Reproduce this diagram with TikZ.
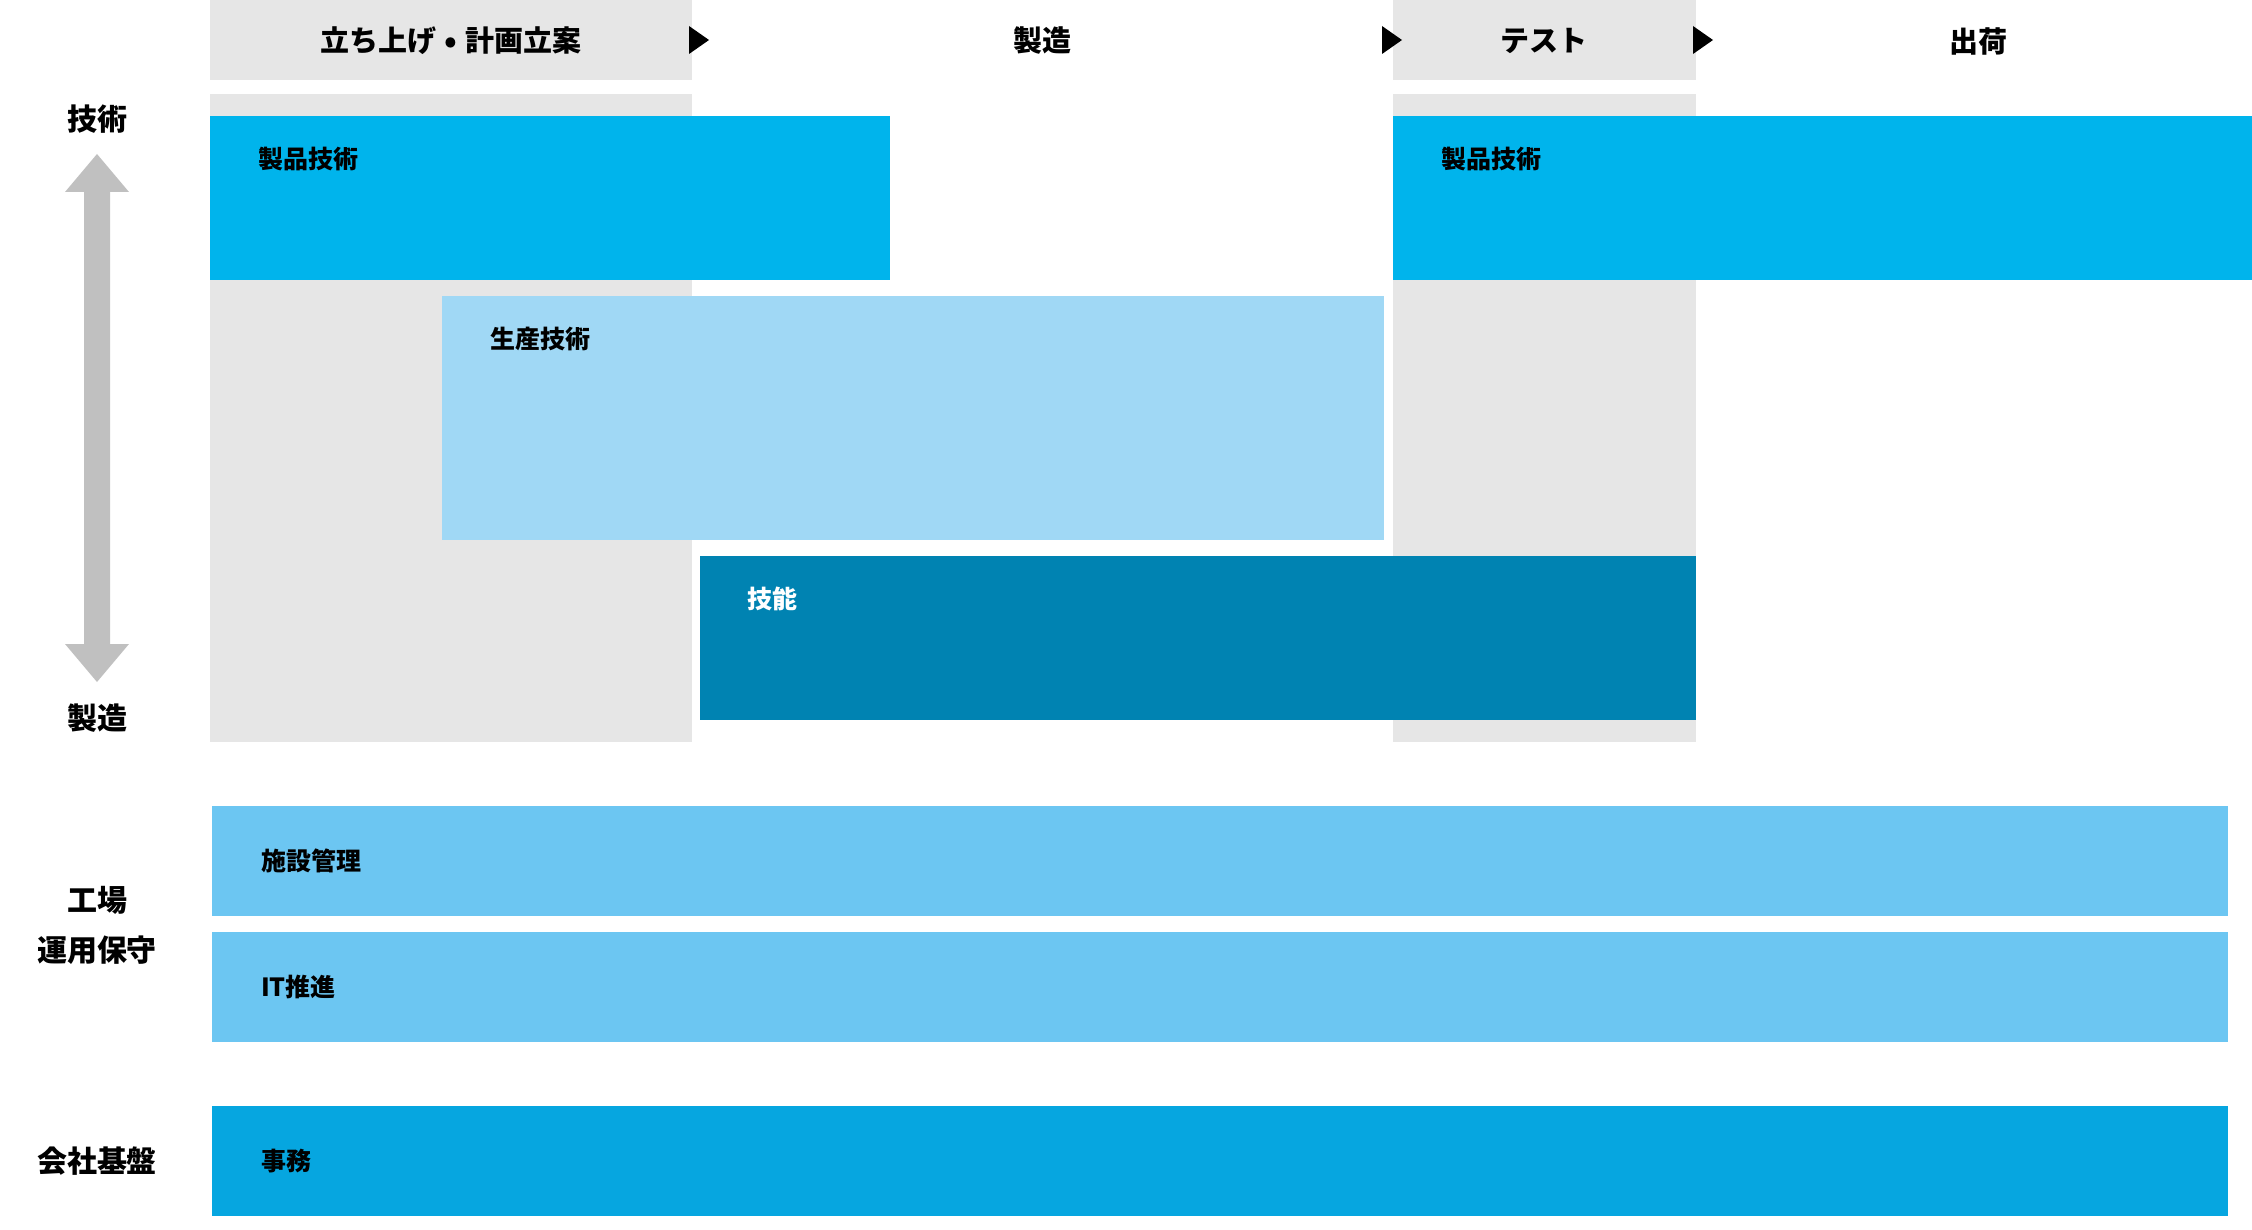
\documentclass[tikz,border=0pt]{standalone}
\usepackage{fontspec}
\setmainfont{Noto Sans CJK JP}
\definecolor{cgray}{HTML}{E6E6E6}
\definecolor{carrow}{HTML}{C0C0C0}
\definecolor{cprod}{HTML}{00B4EC}
\definecolor{cseisan}{HTML}{A0D8F5}
\definecolor{cgino}{HTML}{0083B2}
\definecolor{cfac}{HTML}{6CC6F2}
\definecolor{cjimu}{HTML}{06A6E0}
\tikzset{
  blk/.style={inner sep=0pt, outer sep=0pt, draw=none, anchor=north west},
  hdr/.style={inner sep=0pt, font=\fontsize{29}{34}\selectfont\bfseries, text=black},
  side/.style={inner sep=0pt, font=\fontsize{30}{36}\selectfont\bfseries, text=black},
  lbl/.style={inner sep=0pt, anchor=west, font=\fontsize{25}{30}\selectfont\bfseries, text=black},
}
\newcommand{\bigdot}{\makebox[1em][c]{\raisebox{-0.02em}{\scalebox{1.1}{•}}}}
\begin{document}
\begin{tikzpicture}[x=1pt,y=-1pt]
\useasboundingbox (0,0) rectangle (2252,1230);
% header and column backgrounds
\node[blk, fill=cgray, minimum width=482pt, minimum height=80pt] (h1) at (210,0) {};
\node[blk, fill=cgray, minimum width=303pt, minimum height=80pt] (h3) at (1393,0) {};
\node[blk, fill=cgray, minimum width=482pt, minimum height=648pt] (c1) at (210,94) {};
\node[blk, fill=cgray, minimum width=303pt, minimum height=648pt] (c3) at (1393,94) {};
% header texts
\node[hdr] (t1) at (451,41) {立ち上げ\bigdot 計画立案};
\node[hdr] (t2) at (1042,41) {製造};
\node[hdr] (t3) at (1544,41) {テスト};
\node[hdr] (t4) at (1978,41) {出荷};
% header triangles
\fill[black] (689,26) -- (709,40) -- (689,54) -- cycle;
\fill[black] (1382,26) -- (1402,40) -- (1382,54) -- cycle;
\fill[black] (1693,26) -- (1713,40) -- (1693,54) -- cycle;
% skill boxes
\node[blk, fill=cprod, minimum width=680pt, minimum height=164pt] (p1) at (210,116) {};
\node[blk, fill=cprod, minimum width=859pt, minimum height=164pt] (p2) at (1393,116) {};
\node[blk, fill=cseisan, minimum width=942pt, minimum height=244pt] (s) at (442,296) {};
\node[blk, fill=cgino, minimum width=996pt, minimum height=164pt] (g) at (700,556) {};
\node[lbl] (p1t) at (258,159) {製品技術};
\node[lbl] (p2t) at (1441,159) {製品技術};
\node[lbl] (st) at (490,339) {生産技術};
\node[lbl, text=white] (gt) at (747,599) {技能};
% bottom bars
\node[blk, fill=cfac, minimum width=2016pt, minimum height=110pt] (f) at (212,806) {};
\node[blk, fill=cfac, minimum width=2016pt, minimum height=110pt] (it) at (212,932) {};
\node[blk, fill=cjimu, minimum width=2016pt, minimum height=110pt] (j) at (212,1106) {};
\node[lbl] (ft) at (261,861) {施設管理};
\node[lbl] (itt) at (261,987) {IT推進};
\node[lbl] (jt) at (261,1161) {事務};
% left labels
\node[side] (l1) at (97,119.5) {技術};
\node[side] (l2) at (97,718) {製造};
\node[side] (l3) at (97,900) {工場};
\node[side] (l4) at (97,950) {運用保守};
\node[side] (l5) at (97,1161) {会社基盤};
% double arrow
\fill[carrow] (97,154) -- (129,192) -- (110,192) -- (110,644) -- (129,644) -- (97,682)
  -- (65,644) -- (84,644) -- (84,192) -- (65,192) -- cycle;
\end{tikzpicture}
\end{document}
